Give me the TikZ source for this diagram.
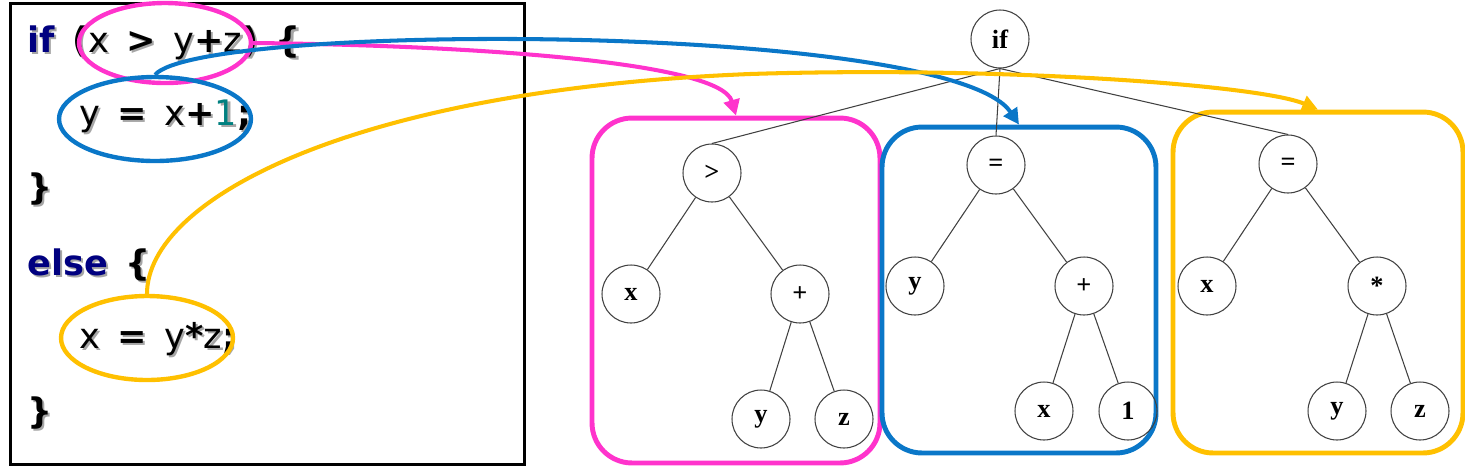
\documentclass[tikz,border=0pt]{standalone}
\usepackage{fontspec}
\setmainfont{Liberation Serif}
\newfontfamily\codefont{DejaVu Sans}
\usepackage{tikz}
\usetikzlibrary{arrows.meta, positioning, shapes.geometric}
\definecolor{CodeNavy}{HTML}{000080}
\definecolor{CodeTeal}{HTML}{008080}
\definecolor{ShadowGray}{HTML}{A6A6A6}
\definecolor{HotPink}{HTML}{FF33CC}
\definecolor{SkyBlue}{HTML}{0A77C8}
\definecolor{Amber}{HTML}{FFC000}
\definecolor{EdgeGray}{HTML}{404040}
\newcommand{\kw}[1]{\textbf{\color{CodeNavy}#1}}
\newcommand{\op}[1]{\textbf{#1}}
\newcommand{\codeline}[3]{%
    \node[codeshadow] at (#1) {#3};
    \node[codetext] (#2) at (#1) {#3};}

\begin{document}
\begin{tikzpicture}[
    x=0.02cm, y=-0.02cm,
    codetext/.style={anchor=base west, inner sep=0pt,
                     font=\codefont\fontsize{20}{24}\selectfont,
                     execute at begin node={\spaceskip=10pt\relax}},
    codeshadow/.style={codetext, text=ShadowGray, xshift=1.2pt, yshift=-1.2pt,
                       execute at begin node={\spaceskip=10pt\relax
                           \colorlet{CodeNavy}{ShadowGray}\colorlet{CodeTeal}{ShadowGray}}},
    codebox/.style={rectangle, draw, line width=1.7pt, inner sep=0pt, outer sep=0pt,
                    minimum width=10.3cm, minimum height=9.24cm},
    mark oval/.style={ellipse, draw=#1, line width=2.5pt, inner sep=0pt},
    subtree/.style={rectangle, draw=#1, line width=2.8pt, rounded corners=0.8cm, inner sep=0pt},
    leaf/.style={circle, draw=EdgeGray, line width=0.6pt, minimum size=1.16cm, inner sep=0pt,
                 font=\bfseries\fontsize{15}{18}\selectfont},
    link/.style={draw=EdgeGray, line width=0.6pt},
    pointer/.style={line width=2.3pt, -{Triangle[length=9pt,width=9pt]}}
]
    \useasboundingbox (0,0) rectangle (1465,468);

    % Source code
    \node[codebox] (code) at (267.5,234) {};
    \codeline{27,52}{lnif}{\kw{if} \op{(}x \op{>} y\op{+}z\op{)} \op{\{}}
    \codeline{79,125}{lnthen}{y \op{=} x\op{+}{\color{CodeTeal}1}\op{;}}
    \codeline{27,199}{lnclose}{\op{\}}}
    \codeline{27,275}{lnelse}{\kw{else} \op{\{}}
    \codeline{79,348}{lnassign}{x \op{=} y\op{*}z\op{;}}
    \codeline{27,423}{lnend}{\op{\}}}

    % Subtree frames
    \node[subtree=HotPink, minimum width=5.76cm, minimum height=6.9cm] (cmpbox) at (736,290.5) {};
    \node[subtree=SkyBlue, minimum width=5.48cm, minimum height=6.52cm] (thnbox) at (1019,290) {};
    \node[subtree=Amber, minimum width=5.8cm, minimum height=6.82cm] (elsbox) at (1318,282.5) {};

    % Syntax tree
    \node[leaf] (root) at (1000,39) {if};
    \node[leaf] (cmp) at (712,173) {>};
    \node[leaf] (cmpx) at (631,294) {x};
    \node[leaf] (cmpadd) at (800,294) {+};
    \node[leaf] (cmpy) at (761,419) {y};
    \node[leaf] (cmpz) at (844,419) {z};
    \node[leaf] (thn) at (996,165) {=};
    \node[leaf] (thny) at (915,286) {y};
    \node[leaf] (thnadd) at (1084,286) {+};
    \node[leaf] (thnx) at (1044,411) {x};
    \node[leaf] (thnone) at (1128,411) {1};
    \node[leaf] (els) at (1288,164) {=};
    \node[leaf] (elsx) at (1207,286) {x};
    \node[leaf] (elsmul) at (1377,286) {*};
    \node[leaf] (elsy) at (1337,411) {y};
    \node[leaf] (elsz) at (1420,411) {z};

    \foreach \kid in {cmp, thn, els}
        \draw[link] (root.south) -- (\kid.north);
    \foreach \a/\b in {cmp/cmpx, cmp/cmpadd, cmpadd/cmpy, cmpadd/cmpz,
                       thn/thny, thn/thnadd, thnadd/thnx, thnadd/thnone,
                       els/elsx, els/elsmul, elsmul/elsy, elsmul/elsz}
        \draw[link] (\a) -- (\b);

    % Marked expressions
    \node[mark oval=HotPink, minimum width=3.44cm, minimum height=1.6cm] (cmpoval) at (165,43) {};
    \node[mark oval=SkyBlue, minimum width=3.84cm, minimum height=1.68cm] (thnoval) at (155,119) {};
    \node[mark oval=Amber, minimum width=3.44cm, minimum height=1.68cm] (elsoval) at (147,338) {};

    % Mapping arrows
    \draw[pointer, HotPink] (cmpoval.east) .. controls (450,45) and (720,60) .. (cmpbox.north);
    \draw[pointer, SkyBlue] (thnoval.north) .. controls (200,22) and (950,22) .. (thnbox.north);
    \draw[pointer, Amber] (elsoval.north) .. controls (147,200) and (350,90) .. (750,74)
        .. controls (1000,66) and (1260,85) .. (elsbox.north);
\end{tikzpicture}
\end{document}
